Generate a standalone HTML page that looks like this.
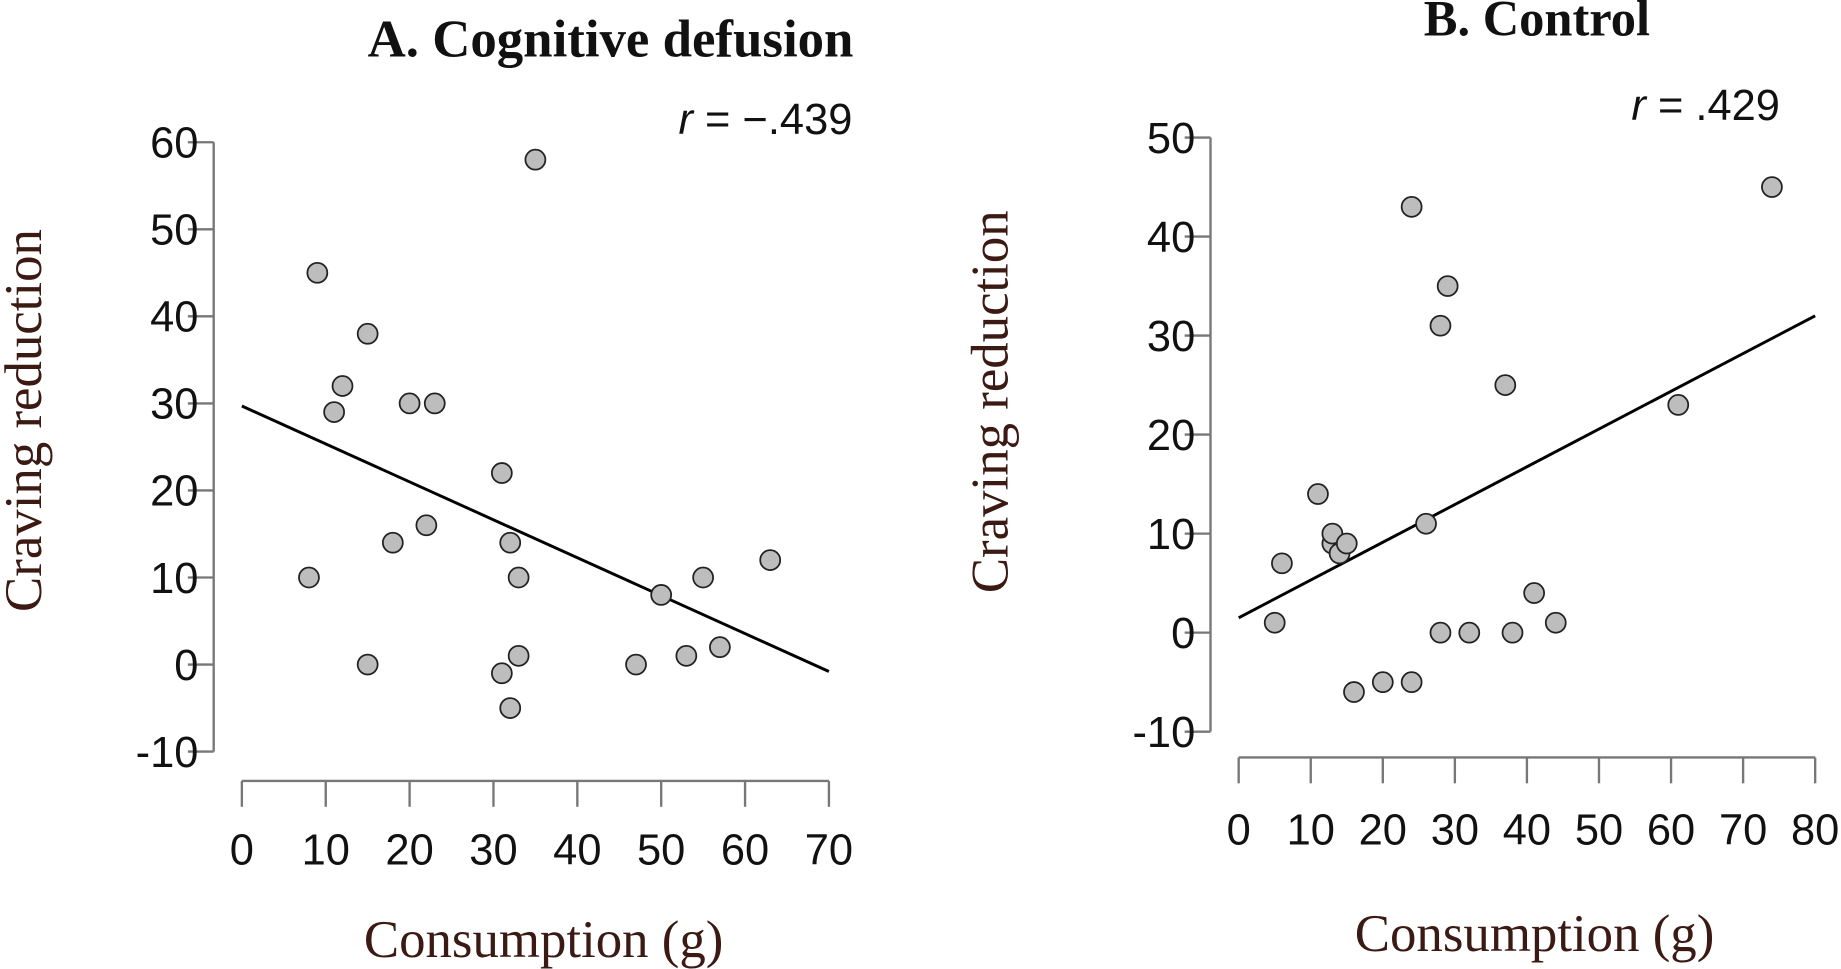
<!DOCTYPE html>
<html><head><meta charset="utf-8"><style>
html,body{margin:0;padding:0;background:#fff;}
svg{display:block;}
.tick{font-family:"Liberation Sans",sans-serif;font-size:37px;fill:#111;}
.ser{font-family:"Liberation Serif",serif;fill:#3a1a12;}
</style></head><body>
<svg id="chart" width="1841" height="969" viewBox="0 0 1568 825" xmlns="http://www.w3.org/2000/svg">
<rect width="1568" height="825" fill="#fff"/>
<text class="ser" x="520" y="48" font-size="45" font-weight="bold" text-anchor="middle" style="fill:#111">A. Cognitive defusion</text>
<text class="ser" x="1309" y="30" font-size="43" font-weight="bold" text-anchor="middle" style="fill:#111">B. Control</text>
<text class="tick" x="726" y="114" font-size="34" text-anchor="end"><tspan font-style="italic">r</tspan> = −.439</text>
<text class="tick" x="1516" y="102" font-size="34" text-anchor="end"><tspan font-style="italic">r</tspan> =  .429</text>
<text class="ser" font-size="45" text-anchor="middle" transform="translate(35,358) rotate(-90)">Craving reduction</text>
<text class="ser" font-size="45" text-anchor="middle" transform="translate(858,342) rotate(-90)">Craving reduction</text>
<text class="ser" x="463" y="815" font-size="45" text-anchor="middle">Consumption (g)</text>
<text class="ser" x="1307" y="810" font-size="45" text-anchor="middle">Consumption (g)</text>
<g id="pa"></g><g id="pb"></g>
</svg>
<script>
const aX=[8,9,11,12,15,15,18,20,22,23,31,31,32,32,33,33,35,47,50,53,55,57,63];
const aY=[10,45,29,32,38,0,14,30,16,30,22,-1,14,-5,10,1,58,0,8,1,10,2,12];
const aFit=[29.7,-0.8];
const aYTicks=[60,50,40,30,20,10,0,-10];
const aXTicks=[0,10,20,30,40,50,60,70];
const bX=[5,6,11,13,13,14,15,16,20,24,24,26,28,28,29,32,37,38,41,44,61,74];
const bY=[1,7,14,9,10,8,9,-6,-5,43,-5,11,31,0,35,0,25,0,4,1,23,45];
const bFit=[1.5,32];
const bYTicks=[50,40,30,20,10,0,-10];
const bXTicks=[0,10,20,30,40,50,60,70,80];
const NS="http://www.w3.org/2000/svg";
function mk(g,t,a){const e=document.createElementNS(NS,t);for(const k in a)e.setAttribute(k,a[k]);g.appendChild(e);return e;}
function panel(id,p,xs,ys,fit,yt,xt){
  const g=document.getElementById(id);
  const sx=v=>p.x0+(v-xt[0])*(p.x1-p.x0)/(xt[xt.length-1]-xt[0]);
  const sy=v=>p.y0+(v-yt[0])*(p.y1-p.y0)/(yt[yt.length-1]-yt[0]);
  let l=mk(g,'line',{x1:p.ax,x2:p.ax,y1:sy(yt[0]),y2:sy(yt[yt.length-1]),stroke:'#777','stroke-width':2});
  
  yt.forEach(v=>{const t=mk(g,'line',{x1:p.ax-22,x2:p.ax,y1:sy(v),y2:sy(v),stroke:'#777','stroke-width':2});
    
    const tx=mk(g,'text',{x:p.ax-13,y:sy(v)+13,class:'tick','text-anchor':'end'});tx.textContent=v;
    });
  l=mk(g,'line',{x1:sx(xt[0]),x2:sx(xt[xt.length-1]),y1:p.by,y2:p.by,stroke:'#777','stroke-width':2});
  
  xt.forEach(v=>{const t=mk(g,'line',{x1:sx(v),x2:sx(v),y1:p.by,y2:p.by+22,stroke:'#777','stroke-width':2});
    
    const tx=mk(g,'text',{x:sx(v),y:p.ly,class:'tick','text-anchor':'middle'});tx.textContent=v;
    });
  const f=mk(g,'line',{x1:sx(xt[0]),y1:sy(fit[0]),x2:sx(xt[xt.length-1]),y2:sy(fit[1]),stroke:'#000','stroke-width':2.5});
  
  xs.forEach((x,i)=>{const c=mk(g,'circle',{cx:sx(x),cy:sy(ys[i]),r:8.5,fill:'#bdbdbd',stroke:'#222','stroke-width':1.5});
    });
}
panel('pa',{x0:206,x1:706,y0:121,y1:640,ax:182,by:665,ly:736},aX,aY,aFit,aYTicks,aXTicks);
panel('pb',{x0:1055,x1:1546,y0:117,y1:623,ax:1031,by:645,ly:719},bX,bY,bFit,bYTicks,bXTicks);
</script>
</body></html>
